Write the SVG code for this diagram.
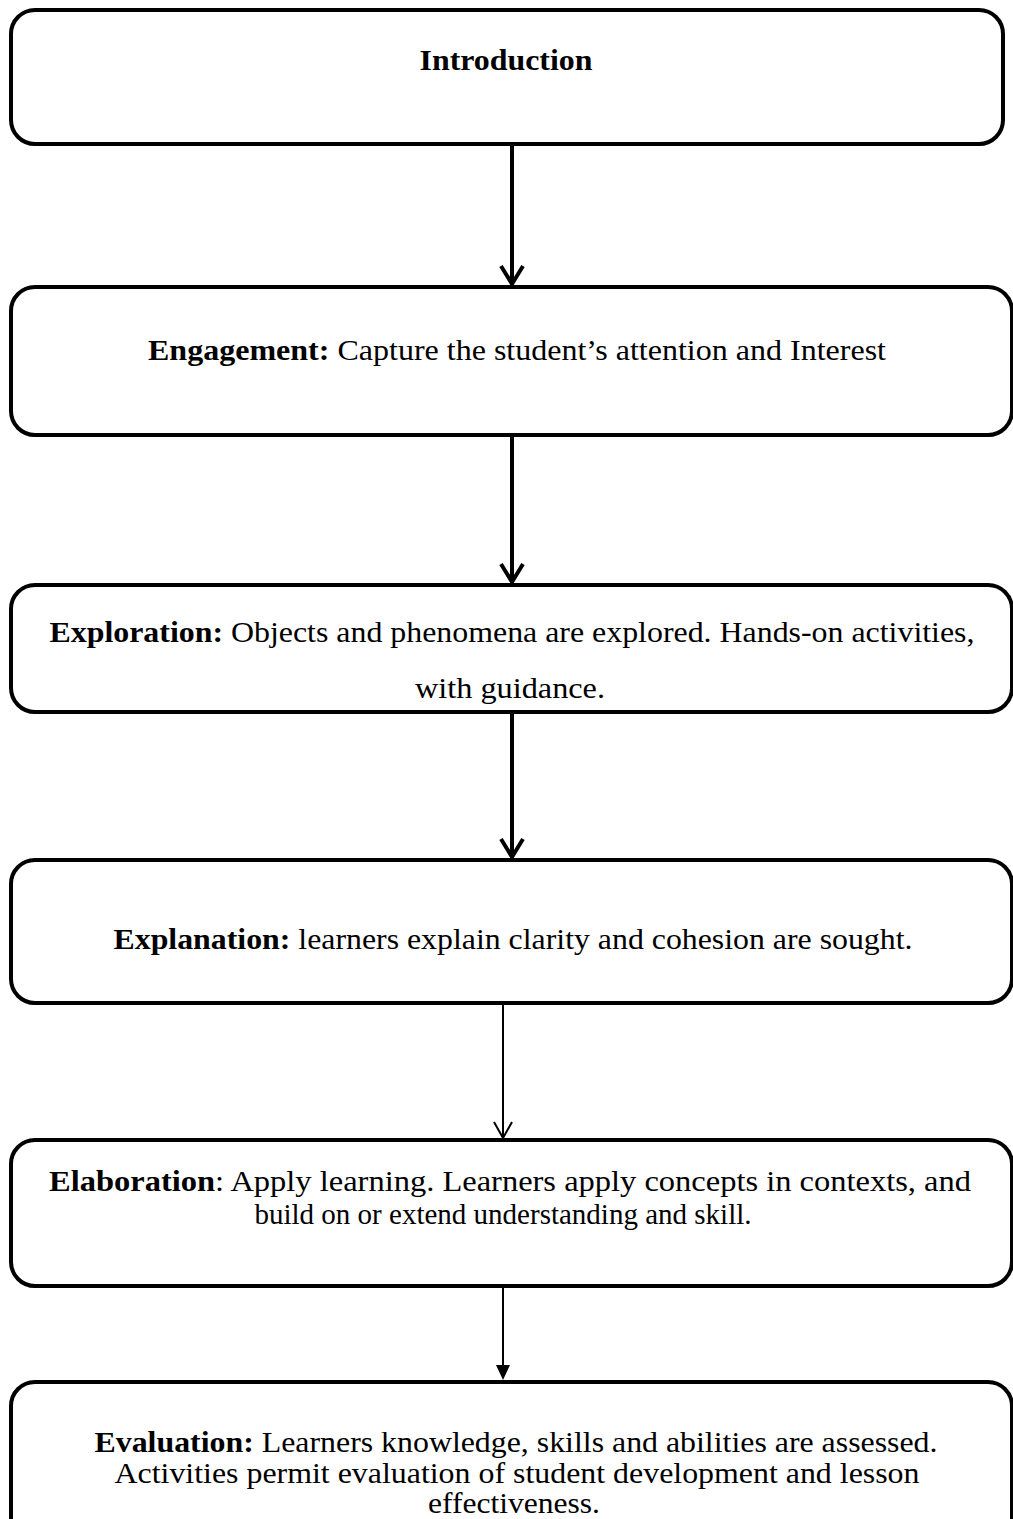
<svg xmlns="http://www.w3.org/2000/svg" width="1013" height="1519" viewBox="0 0 1013 1519">
<defs>
<style>
.box{fill:#fff;stroke:#000;stroke-width:4}
.t{font-family:"Liberation Serif","Times New Roman",serif;font-size:30px;fill:#000;text-anchor:middle}
.b{font-weight:bold}
.thick{stroke:#000;stroke-width:4;fill:none}
.thin{stroke:#000;stroke-width:2;fill:none}
</style>
</defs>
<rect width="1013" height="1519" fill="#fff"/>
<g id="connectors">
<line class="thick" x1="512" y1="145" x2="512" y2="284"/>
<polyline class="thick" points="501,266 512,284 523,266"/>
<line class="thick" x1="512" y1="437" x2="512" y2="582"/>
<polyline class="thick" points="501,564 512,582 523,564"/>
<line class="thick" x1="512" y1="714" x2="512" y2="857"/>
<polyline class="thick" points="501,839 512,857 523,839"/>
<line class="thin" x1="503" y1="1005" x2="503" y2="1138"/>
<polyline class="thin" points="494,1122 503,1138 512,1122"/>
<line class="thin" x1="503" y1="1288" x2="503" y2="1366"/>
<polygon points="496,1365 510,1365 503,1380" fill="#000"/>
</g>
<g id="introduction">
<rect class="box" x="11" y="10" width="992" height="134" rx="24"/>
<text class="t b" x="506" y="70" textLength="173" lengthAdjust="spacingAndGlyphs">Introduction</text>
</g>
<g id="engagement">
<rect class="box" x="11" y="287" width="1001" height="148" rx="24"/>
<text class="t" x="517" y="360" textLength="738" lengthAdjust="spacingAndGlyphs"><tspan class="b">Engagement:</tspan> Capture the student’s attention and Interest</text>
</g>
<g id="exploration">
<rect class="box" x="11" y="585" width="1001" height="127" rx="24"/>
<text class="t" x="512" y="642" textLength="925" lengthAdjust="spacingAndGlyphs"><tspan class="b">Exploration:</tspan> Objects and phenomena are explored. Hands-on activities,</text>
<text class="t" x="510" y="698" textLength="190" lengthAdjust="spacingAndGlyphs">with guidance.</text>
</g>
<g id="explanation">
<rect class="box" x="11" y="860" width="1001" height="143" rx="24"/>
<text class="t" x="513" y="949" textLength="799" lengthAdjust="spacingAndGlyphs"><tspan class="b">Explanation:</tspan> learners explain clarity and cohesion are sought.</text>
</g>
<g id="elaboration">
<rect class="box" x="11" y="1140" width="1001" height="146" rx="24"/>
<text class="t" x="510" y="1191" textLength="922" lengthAdjust="spacingAndGlyphs"><tspan class="b">Elaboration</tspan>: Apply learning.  Learners apply concepts in contexts, and</text>
<text class="t" x="503" y="1224" textLength="497" lengthAdjust="spacingAndGlyphs">build on or extend understanding and skill.</text>
</g>
<g id="evaluation">
<rect class="box" x="11" y="1382" width="1001" height="160" rx="24"/>
<text class="t" x="516" y="1452" textLength="843" lengthAdjust="spacingAndGlyphs"><tspan class="b">Evaluation:</tspan> Learners knowledge, skills and abilities are assessed.</text>
<text class="t" x="517" y="1483" textLength="805" lengthAdjust="spacingAndGlyphs">Activities permit evaluation of student development and lesson</text>
<text class="t" x="514" y="1513" textLength="172" lengthAdjust="spacingAndGlyphs">effectiveness.</text>
</g>
</svg>
